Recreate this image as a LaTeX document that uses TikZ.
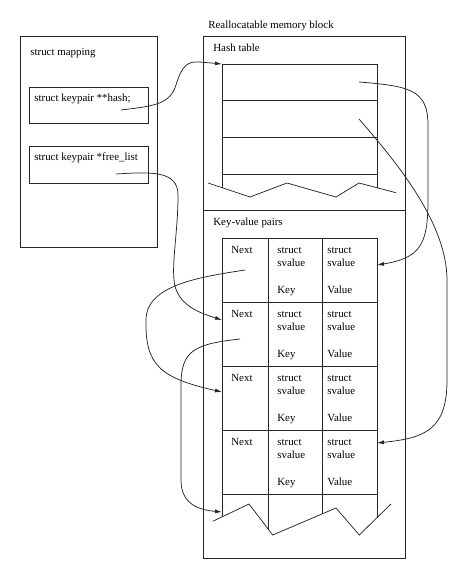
\documentclass[tikz,border=0pt]{standalone}
\usepackage{fontspec}
\setmainfont{Liberation Serif}
\usetikzlibrary{arrows.meta}
\begin{document}
\begin{tikzpicture}[x=1pt,y=-1pt, line width=0.75pt, color=black!85,
  box/.style={draw, rectangle, inner sep=0pt, anchor=north west},
  lbl/.style={anchor=base west, inner sep=0pt, text=black, font=\fontsize{10.9}{13}\selectfont},
  arr/.style={-{Latex[length=7pt,width=4pt]}}]
\useasboundingbox (0,0) rectangle (469,579);

% left structure
\node[box, minimum width=137pt, minimum height=211pt] (mapping) at (20,36) {};
\node[lbl] (mappinglbl) at (30,55) {struct mapping};
\node[box, minimum width=119pt, minimum height=36pt] (hashbox) at (29,87) {};
\node[lbl] (hashlbl) at (34,101) {struct keypair **hash;};
\node[box, minimum width=119pt, minimum height=37pt] (freebox) at (29,146) {};
\node[lbl] (freelbl) at (34,160.5) {struct keypair *free\_list};

% memory block
\node[lbl] (blocklbl) at (208,28) {Reallocatable memory block};
\node[box, minimum width=202pt, minimum height=522pt] (block) at (203,36) {};
\draw (203,210) -- (405,210);
\node[lbl] (htlbl) at (213,51) {Hash table};
\node[lbl] (kvlbl) at (213,225) {Key-value pairs};

% hash table
\draw (222,187.7) -- (222,64) -- (377,64) -- (377,187.7);
\foreach \y in {100,137,174} \draw (222,\y) -- (377,\y);
\draw (208,183) -- (250,197) -- (287,183) -- (336,197) -- (359,183) -- (396,192.7);

% key-value table
\foreach \y in {238,302,366,430,494} \draw (222,\y) -- (377,\y);
\draw (222,238) -- (222,517);
\draw (268,238) -- (268,529);
\draw (322,238) -- (322,514);
\draw (377,238) -- (377,517.7);
\draw (212.7,521.3) -- (249,504) -- (272.7,535) -- (336,508) -- (359.3,535) -- (391,504);
\foreach \r/\t in {0/238,1/302,2/366,3/430}{
  \node[lbl] (next\r) at (231,\t+15) {Next};
  \node[lbl] (ks\r) at (277,\t+15) {struct};
  \node[lbl] (ksv\r) at (277,\t+28) {svalue};
  \node[lbl] (key\r) at (277,\t+55) {Key};
  \node[lbl] (vs\r) at (327,\t+15) {struct};
  \node[lbl] (vsv\r) at (327,\t+28) {svalue};
  \node[lbl] (val\r) at (327,\t+55) {Value};
}

% connector end points
\coordinate (h0) at (121,110);
\coordinate (ht) at (222,64);
\coordinate (f0) at (116,174);
\coordinate (r2w) at (222,320);
\coordinate (n1) at (245,270);
\coordinate (r3w) at (222,392);
\coordinate (n2) at (240,339);
\coordinate (zz) at (222,512);
\coordinate (t1) at (359,82);
\coordinate (v1) at (377,265);
\coordinate (t2) at (359,119);
\coordinate (v4) at (377,443);

% connectors
\draw[arr] (h0) .. controls (155,106) and (170,104) .. (176,85)
  .. controls (182,65) and (188,61) .. (200,62) -- (ht);
\draw[arr] (f0) .. controls (150,172) and (178,170) .. (178,195)
  .. controls (178,230) and (172,260) .. (174,280)
  .. controls (176,305) and (200,313) .. (r2w);
\draw[arr] (n1) .. controls (200,277) and (146,285) .. (146,320)
  .. controls (145,365) and (160,378) .. (r3w);
\draw[arr] (n2) .. controls (195,344) and (181,350) .. (181,385) -- (181,480)
  .. controls (181,505) and (200,510) .. (zz);
\draw[arr] (t1) .. controls (410,86) and (428,90) .. (428,125) -- (428,200)
  .. controls (428,245) and (420,258) .. (v1);
\draw[arr] (t2) .. controls (390,155) and (447,220) .. (447,280) -- (447,380)
  .. controls (447,430) and (425,438) .. (v4);
\end{tikzpicture}
\end{document}
